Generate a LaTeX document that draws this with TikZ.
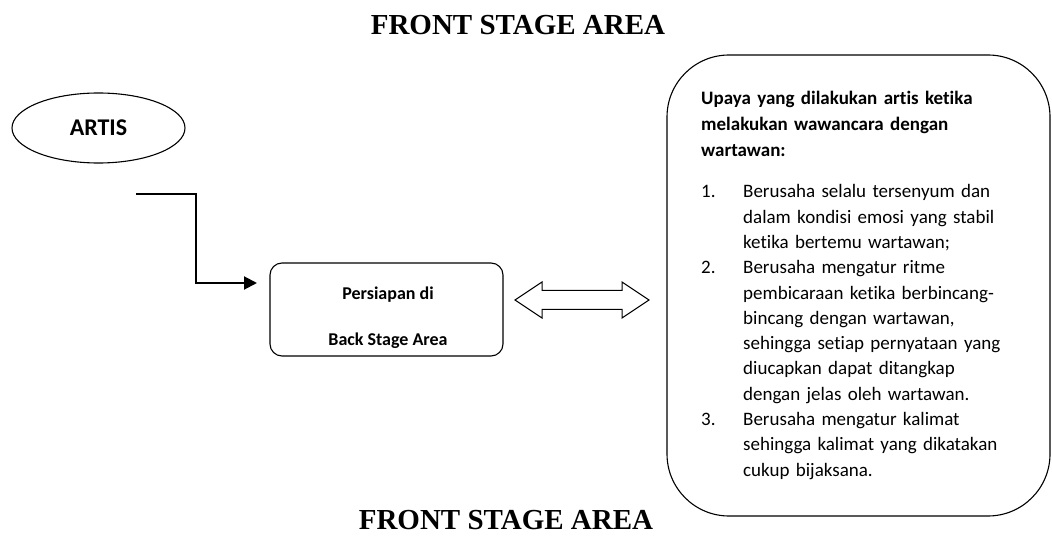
\documentclass[tikz,border=0pt]{standalone}
\usepackage{fontspec}
\setmainfont{Carlito}[Ligatures=NoCommon]
\newfontfamily\titlefont{Liberation Serif}
\usetikzlibrary{arrows.meta, shapes.geometric}
\newcommand{\itemno}[1]{\makebox[42pt][l]{#1}}

\begin{document}
\begin{tikzpicture}[x=1pt, y=-1pt,
        outline/.style={draw=black, line width=1.1pt},
        title/.style={font=\titlefont\bfseries\fontsize{29}{31}\selectfont, anchor=base, inner sep=0},
        label/.style={font=\bfseries\fontsize{18}{22}\selectfont, anchor=base, inner sep=0}]
        \useasboundingbox (0,0) rectangle (1052,537);

        \node (top title) [title] at (518,35) {FRONT STAGE AREA};
        \node (bottom title) [title] at (506,529) {FRONT STAGE AREA};

        \node (artis) [outline, ellipse, minimum width=173, minimum height=70, inner sep=0,
            font=\bfseries\fontsize{24}{28}\selectfont] at (98.5,128) {ARTIS};

        \node (prep) [outline, rectangle, rounded corners=12, minimum width=233, minimum height=93] at (386.5,309.5) {};
        \node (prep line1) [label] at (388,300) {Persiapan di};
        \node (prep line2) [label] at (388,345) {Back Stage Area};

        \coordinate (artis out) at (136,194);
        \coordinate (prep in) at (257,283);
        \draw [black, line width=2pt, -{Triangle[length=13pt, width=13pt]}] (artis out) -- ++(60,0) |- (prep in);

        \coordinate (swap) at (582,300);
        \draw [outline, line width=1pt, line join=miter] (swap) ++(-67,0) -- ++(27,-18) -- ++(0,8.5) -- ++(80,0) -- ++(0,-8.5)
            -- ++(27,18) -- ++(-27,18) -- ++(0,-8.5) -- ++(-80,0) -- ++(0,8.5) -- cycle;

        \node (effort box) [outline, rectangle, rounded corners=62, minimum width=383, minimum height=461] at (858.5,285.5) {};
        \node (effort text) [anchor=north west, inner sep=0, text width=345pt, align=left,
            font=\fontsize{19}{25.3}\selectfont] at (701,91) {%
            \textbf{Upaya yang dilakukan artis ketika}\\[0.7pt]
            \textbf{melakukan wawancara dengan}\\[0.7pt]
            \textbf{wartawan:}\\[16pt]
            \itemno{1.}Berusaha selalu tersenyum dan\\
            \itemno{}dalam kondisi emosi yang stabil\\
            \itemno{}ketika bertemu wartawan;\\
            \itemno{2.}Berusaha mengatur ritme\\
            \itemno{}pembicaraan ketika berbincang-\\
            \itemno{}bincang dengan wartawan,\\
            \itemno{}sehingga setiap pernyataan yang\\
            \itemno{}diucapkan dapat ditangkap\\
            \itemno{}dengan jelas oleh wartawan.\\
            \itemno{3.}Berusaha mengatur kalimat\\
            \itemno{}sehingga kalimat yang dikatakan\\
            \itemno{}cukup bijaksana.};
    \end{tikzpicture}
\end{document}
